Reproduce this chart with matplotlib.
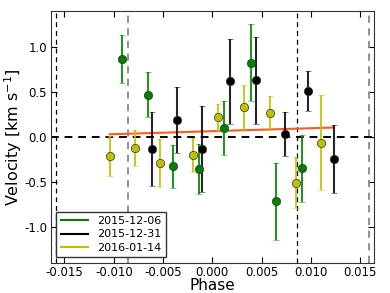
import matplotlib
matplotlib.use("Agg")
import matplotlib.pyplot as plt
from matplotlib.lines import Line2D

# 2015-12-06
g_phase = [-0.0092, -0.00657, -0.0040, -0.00137, 0.0012, 0.00387, 0.0065, 0.0091]
g_vel = [0.867, 0.47, -0.326, -0.356, 0.10, 0.826, -0.714, -0.348]
g_err = [0.27, 0.25, 0.24, 0.28, 0.30, 0.43, 0.43, 0.37]

# 2015-12-31
k_phase = [-0.00613, -0.00363, -0.00106, 0.00177, 0.00441, 0.00735, 0.00968, 0.0123]
k_vel = [-0.133, 0.189, -0.137, 0.619, 0.63, 0.033, 0.514, -0.248]
k_err = [0.41, 0.37, 0.48, 0.475, 0.485, 0.24, 0.22, 0.38]

# 2016-01-14
y_phase = [-0.01035, -0.00782, -0.00529, -0.00198, 0.00053, 0.00316, 0.00586, 0.00846, 0.011]
y_vel = [-0.214, -0.122, -0.292, -0.196, 0.219, 0.33, 0.263, -0.507, -0.063]
y_err = [0.225, 0.2, 0.27, 0.19, 0.15, 0.25, 0.19, 0.28, 0.53]

# model line
fit_phase = [-0.0104, 0.0123]
fit_vel = [0.03, 0.105]

# contact lines
black_lines = [-0.0159, 0.0086]
gray_lines = [-0.0086, 0.0159]

labels = ["2015-12-06", "2015-12-31", "2016-01-14"]
colors = ["#008000", "#000000", "#bfbf00"]

fig = plt.figure(figsize=(3.9, 2.93), dpi=100)
ax = fig.add_axes([0.13, 0.103, 0.829, 0.859])

for x in black_lines:
    ax.axvline(x, color="k", ls="--", lw=0.9, dashes=(4, 3))
for x in gray_lines:
    ax.axvline(x, color="#888888", ls="--", lw=1.3, dashes=(4, 3))
ax.axhline(0, color="k", ls="--", lw=1.4, dashes=(4, 3), zorder=2)

ax.plot(fit_phase, fit_vel, color="#ff5a1e", lw=1.5, zorder=2)

sets = [(g_phase, g_vel, g_err), (k_phase, k_vel, k_err), (y_phase, y_vel, y_err)]
for (px, py, pe), c in zip(sets, colors):
    eb = ax.errorbar(px, py, yerr=pe, fmt="o", color=c, ms=6, mec="#333333",
                     mew=0.5, elinewidth=1.5, capsize=2, capthick=1, ecolor=c,
                     zorder=3)
    for line in eb[1]:
        line.set_alpha(0.7)
        line.set_color("#aaaaaa")
    for coll in eb[2]:
        coll.set_alpha(0.85)

ax.set_xlim(-0.0164, 0.0164)
ax.set_ylim(-1.4, 1.4)
ax.set_xticks([-0.015, -0.010, -0.005, 0.000, 0.005, 0.010, 0.015])
ax.set_yticks([-1.0, -0.5, 0.0, 0.5, 1.0])
ax.xaxis.set_major_formatter(matplotlib.ticker.FormatStrFormatter("%.3f"))
ax.yaxis.set_major_formatter(matplotlib.ticker.FormatStrFormatter("%.1f"))
ax.tick_params(direction="in", top=True, right=True, labelsize=8.5, length=4, pad=2.5)
for s in ax.spines.values():
    s.set_color("#333333")

ax.set_xlabel("Phase", fontsize=11, labelpad=-1)
ax.set_ylabel(r"Velocity [$\mathrm{km\ s^{-1}}$]", fontsize=11.5, labelpad=0)

handles = [Line2D([], [], color=c, lw=1.5) for c in colors]
leg = ax.legend(handles, labels, loc="lower left", fontsize=8, fancybox=False,
                framealpha=1, edgecolor="#333333", handlelength=2.5,
                borderaxespad=0.5, labelspacing=0.3)
leg.get_frame().set_linewidth(1.0)

fig.savefig("out.png", dpi=100)
